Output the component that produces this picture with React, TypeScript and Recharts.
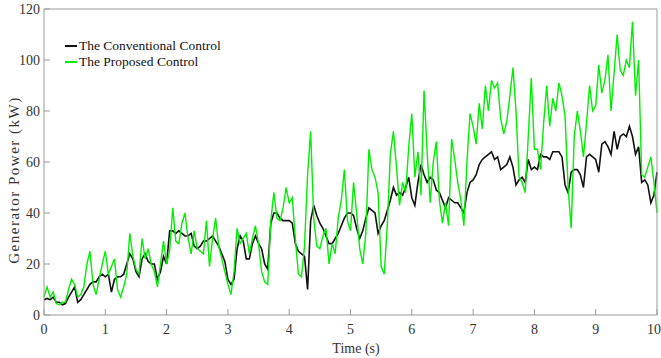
import { LineChart, Line, XAxis, YAxis, Legend } from "recharts";

// sampled every 0.05 s, 0 … 10 s
const SAMPLE_STEP = 0.05;

const POWER_CONVENTIONAL = [
  6, 6.5, 6, 7, 5, 5, 4, 4.5, 7, 9, 11, 5, 6, 8, 10, 12, 13, 13, 15, 16,
  15, 16, 9, 14, 15, 15, 16, 20, 24, 22, 17, 15, 22, 24, 21, 20, 20, 14, 17, 23,
  20, 33, 33, 32, 33, 32, 31, 31, 32, 27, 26, 27, 29, 29, 30, 31, 29, 27, 24, 21,
  14, 12, 14, 26, 31, 29, 22, 22, 28, 31, 28, 26, 20, 18, 36, 40, 40, 38, 37, 37,
  37, 36, 28, 25, 24, 23, 10, 37, 43, 39, 36, 34, 31, 28, 28, 30, 32, 35, 38, 40,
  40, 39, 34, 30, 33, 38, 42, 41, 40, 32, 35, 37, 41, 45, 50, 47, 48, 47, 50, 54,
  46, 43, 52, 59, 55, 52, 54, 53, 49, 48, 45, 42, 46, 45, 44, 44, 42, 40, 48, 52,
  53, 55, 59, 61, 62, 63, 64, 61, 62, 57, 58, 59, 62, 58, 51, 53, 54, 52, 61, 57,
  58, 57, 63, 62, 62, 61, 64, 64, 64, 62, 51, 48, 56, 57, 57, 55, 50, 62, 63, 62,
  61, 56, 67, 68, 66, 63, 72, 65, 70, 71, 70, 74, 70, 63, 66, 52, 53, 51, 44, 47,
  56,
];

const POWER_PROPOSED = [
  7, 11, 7, 9, 4.5, 4, 5, 5, 10, 14, 12, 7, 8, 11, 20, 25, 12, 8, 14, 20,
  25, 16, 19, 22, 10, 7, 11, 16, 32, 23, 18, 16, 30, 22, 26, 20, 17, 11, 20, 29,
  20, 25, 42, 29, 28, 36, 40, 30, 24, 33, 26, 25, 24, 37, 19, 30, 38, 27, 22, 17,
  12, 8, 17, 34, 28, 30, 32, 24, 30, 35, 28, 17, 13, 12, 37, 48, 38, 37, 42, 50,
  44, 46, 30, 16, 15, 27, 55, 72, 38, 27, 26, 31, 34, 20, 28, 24, 38, 45, 57, 37,
  33, 52, 40, 26, 20, 32, 65, 57, 54, 48, 19, 16, 35, 63, 72, 58, 43, 52, 48, 66,
  79, 54, 64, 47, 88, 64, 44, 60, 68, 45, 36, 44, 35, 69, 61, 52, 45, 35, 60, 79,
  74, 67, 83, 73, 90, 80, 92, 89, 91, 77, 71, 76, 86, 97, 80, 54, 52, 48, 70, 93,
  65, 65, 57, 75, 90, 74, 85, 80, 91, 86, 78, 50, 34, 70, 80, 72, 62, 75, 90, 80,
  82, 98, 87, 92, 102, 80, 95, 110, 96, 94, 100, 97, 115, 86, 100, 55, 54, 58, 62, 52,
  40,
];

const X_TICKS = [0, 1, 2, 3, 4, 5, 6, 7, 8, 9, 10];
const Y_TICKS = [0, 20, 40, 60, 80, 100, 120];

const data = POWER_CONVENTIONAL.map((v, i) => ({
  t: +(i * SAMPLE_STEP).toFixed(2),
  conv: v,
  prop: POWER_PROPOSED[i],
}));

const FONT = '"Liberation Serif", "Times New Roman", serif';
const AXIS = "#9a9a9a";
const tickStyle = { fill: "#333", fontSize: 14, fontFamily: FONT };

function LegendBox({ payload }: { payload?: { value: string; color: string }[] }) {
  return (
    <div style={{ fontFamily: FONT, fontSize: 13.5, color: "#111", lineHeight: "16px" }}>
      {(payload ?? []).map((p) => (
        <div key={p.value} style={{ display: "flex", alignItems: "center" }}>
          <span style={{ width: 12, height: 2, background: p.color, marginRight: 2 }} />
          {p.value}
        </div>
      ))}
    </div>
  );
}

export default function App() {
  return (
    <div style={{ position: "absolute", left: 0, top: 0, width: 661, height: 358, background: "#fff" }}>
      <LineChart width={661} height={358} data={data} margin={{ top: 8, right: 3, bottom: 0, left: 0 }}>
        <XAxis
          dataKey="t" type="number" domain={[0, 10]} ticks={X_TICKS}
          height={43} stroke={AXIS} tickSize={-6} tickMargin={15} tick={tickStyle}
          label={{
            content: () => (
              <text x={356} y={353} textAnchor="middle" fill="#333" fontSize={14} fontFamily={FONT}>
                Time (s)
              </text>
            ),
          }}
        />
        <XAxis
          xAxisId="top" orientation="top" dataKey="t" type="number" domain={[0, 10]}
          ticks={X_TICKS} height={1} stroke={AXIS} tickSize={-6} tick={false}
        />
        <YAxis
          domain={[0, 120]} ticks={Y_TICKS} width={44} stroke={AXIS}
          tickSize={-6} tickMargin={10} tick={tickStyle}
          label={{
            content: () => (
              <text
                x={19} y={180} textAnchor="middle" fill="#333" fontSize={15}
                fontFamily={FONT} letterSpacing={1.5} transform="rotate(-90 19 180)"
              >
                Generator Power (kW)
              </text>
            ),
          }}
        />
        <YAxis
          yAxisId="right" orientation="right" domain={[0, 120]} ticks={Y_TICKS}
          width={1} stroke={AXIS} tickSize={-6} tick={false}
        />
        <Legend
          layout="vertical" align="center" verticalAlign="middle"
          wrapperStyle={{ left: 65, top: 38, width: "auto", height: "auto" }}
          content={(props) => <LegendBox payload={props.payload as any} />}
        />
        <Line
          dataKey="conv" name="The Conventional Control" stroke="#111"
          strokeWidth={1.6} dot={false} isAnimationActive={false}
        />
        <Line
          dataKey="prop" name="The Proposed Control" stroke="#00ee00"
          strokeWidth={1.4} dot={false} isAnimationActive={false}
        />
      </LineChart>
    </div>
  );
}
